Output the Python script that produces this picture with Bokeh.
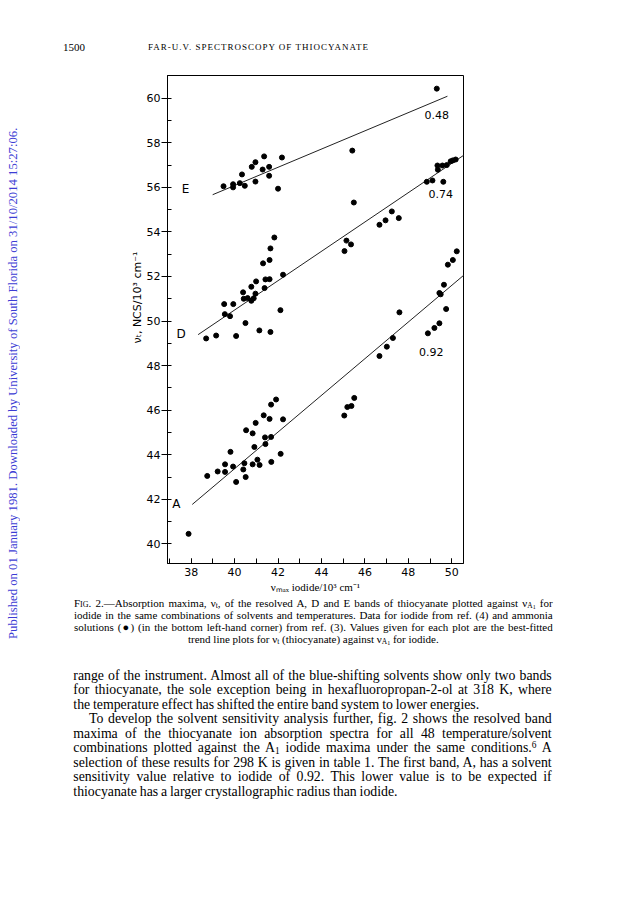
from bokeh.plotting import figure
from bokeh.models import Label, SingleIntervalTicker, Range1d, Title, Div
from bokeh.layouts import row, column
from bokeh.embed import file_html
from bokeh.resources import INLINE

# ---------------- data ----------------
band_E_x = [39.49, 39.93, 39.93, 40.24, 40.34, 40.47, 40.79, 40.96, 40.96, 41.29, 41.36,
            41.59, 41.59, 42.00, 42.18, 45.42, 49.31]
band_E_y = [56.05, 56.14, 56.00, 56.19, 56.58, 56.07, 56.92, 57.13, 56.26, 56.80, 57.39,
            56.92, 56.52, 55.94, 57.34, 57.65, 60.43]

band_D_x = [38.69, 39.15, 39.52, 39.55, 39.79, 39.94, 40.07, 40.39, 40.42, 40.50, 40.60,
            40.77, 40.77, 40.88, 40.96, 40.99, 41.14, 41.31, 41.38, 41.42, 41.61, 41.61,
            41.65, 41.65, 41.83, 42.11, 42.23, 45.06, 45.15, 45.36, 45.49, 46.67, 46.95,
            47.24, 47.56, 48.85, 49.11, 49.36, 49.34, 49.57, 49.61, 49.77, 49.95, 50.05, 50.18]
band_D_y = [49.22, 49.35, 50.76, 50.31, 50.22, 50.76, 49.33, 51.29, 51.00, 49.91, 51.03,
            51.54, 50.91, 51.02, 51.23, 51.78, 49.58, 52.59, 51.48, 51.87, 51.88, 52.74,
            53.26, 49.51, 53.75, 50.49, 52.08, 53.14, 53.61, 53.44, 55.32, 54.32, 54.52,
            54.92, 54.62, 56.25, 56.31, 56.79, 56.98, 56.98, 56.25, 57.00, 57.17, 57.21, 57.25]

band_A_x = [38.74, 39.22, 39.56, 39.56, 39.81, 39.93, 40.07, 40.40, 40.45, 40.51, 40.53,
            40.83, 40.83, 40.91, 40.97, 41.05, 41.15, 41.34, 41.40, 41.42, 41.61, 41.68,
            41.68, 41.69, 41.91, 42.12, 42.23, 45.05, 45.19, 45.38, 45.51, 46.67, 47.01,
            47.29, 47.59, 48.90, 49.20, 49.43, 49.43, 49.49, 49.64, 49.74, 49.82, 50.05, 50.23]
band_A_y = [43.05, 43.25, 43.57, 43.23, 44.13, 43.47, 42.78, 43.34, 43.62, 43.00, 45.10,
            44.96, 43.57, 44.35, 45.43, 43.78, 43.54, 45.77, 44.78, 44.48, 45.61, 46.25,
            44.80, 43.68, 46.48, 44.04, 45.59, 45.76, 46.14, 46.19, 46.55, 48.43, 48.85,
            49.24, 50.39, 49.45, 49.69, 49.90, 51.26, 51.20, 51.63, 50.54, 52.53, 52.74, 53.13]

ammonia_x = [37.88]
ammonia_y = [40.45]

trend_E_x = [38.99, 49.80]
trend_E_y = [55.67, 60.09]
trend_D_x = [38.32, 50.58]
trend_D_y = [49.39, 57.46]
trend_A_x = [38.05, 50.58]
trend_A_y = [41.77, 52.08]

band_names = ["E", "D", "A"]
band_name_x = [37.74, 37.54, 37.32]
band_name_y = [55.94, 49.43, 41.81]
slope_texts = ["0.48", "0.74", "0.92"]
slope_x = [49.31, 49.49, 49.05]
slope_y = [59.26, 55.68, 48.60]

header_page = "1500"
header_title = "FAR-U.V. SPECTROSCOPY OF THIOCYANATE"
watermark = ("Published on 01 January 1981. Downloaded by University of South Florida "
             "on 31/10/2014 15:27:06.")
SUB_T = '<span class="sb">t</span>'
SUB_A1 = '<span class="sb">A<span class="sb2">1</span></span>'
caption_lines = [
    '<span style="font-variant:small-caps">Fig</span>. 2.—Absorption maxima, ν' + SUB_T +
    ', of the resolved A, D and E bands of thiocyanate plotted against ν' + SUB_A1 + ' for',
    "iodide in the same combinations of solvents and temperatures. Data for iodide from ref. (4) and ammonia",
    "solutions (●) (in the bottom left-hand corner) from ref. (3). Values given for each plot are the best-fitted",
    "trend line plots for ν" + SUB_T + " (thiocyanate) against ν" + SUB_A1 + " for iodide.",
]
body_lines = [
    "range of the instrument. Almost all of the blue-shifting solvents show only two bands",
    "for thiocyanate, the sole exception being in hexafluoropropan-2-ol at 318 K, where",
    "the temperature effect has shifted the entire band system to lower energies.",
    "To develop the solvent sensitivity analysis further, fig. 2 shows the resolved band",
    "maxima of the thiocyanate ion absorption spectra for all 48 temperature/solvent",
    'combinations plotted against the A<span class="sb">1</span> iodide maxima under the same conditions.<span class="sp">6</span> A',
    "selection of these results for 298 K is given in table 1. The first band, A, has a solvent",
    "sensitivity value relative to iodide of 0.92. This lower value is to be expected if",
    "thiocyanate has a larger crystallographic radius than iodide.",
]

# ---------------- layout (page pixels) ----------------
WM_W = 26                      # width of the watermark strip
HDR_H = 60                     # header strip height
FL, FR, FT, FB = 167, 463, 75, 563
FIG_W = 624 - WM_W
FIG_H = 539
BL = FL - WM_W
FW = FR - FL
BT = FT - HDR_H
FH = FB - FT
TXT_TOP = HDR_H + FIG_H        # page y where text block starts

p = figure(width=FIG_W, height=FIG_H, output_backend="svg", toolbar_location=None,
           x_range=Range1d(36.91, 50.54), y_range=Range1d(39.12, 61.02),
           min_border_left=BL, min_border_right=FIG_W - BL - FW,
           min_border_top=BT, min_border_bottom=FIG_H - BT - FH, margin=0)
p.background_fill_color = "white"
p.border_fill_color = "white"
p.outline_line_color = "black"
p.outline_line_width = 1
p.xgrid.visible = False
p.ygrid.visible = False

p.xaxis.ticker = SingleIntervalTicker(interval=2, num_minor_ticks=2)
p.yaxis.ticker = SingleIntervalTicker(interval=2, num_minor_ticks=2)
for ax in (p.xaxis, p.yaxis):
    ax.axis_line_color = "black"
    ax.major_tick_line_color = "black"
    ax.minor_tick_line_color = "black"
    ax.major_label_text_font = "DejaVu Sans"
    ax.major_label_text_font_size = "11px"
    ax.major_label_text_color = "black"
p.xaxis.major_tick_in = 5
p.xaxis.major_tick_out = 0
p.xaxis.minor_tick_in = 5
p.xaxis.minor_tick_out = 0
p.xaxis.major_label_standoff = 4
p.yaxis.major_tick_in = 3
p.yaxis.major_tick_out = 6
p.yaxis.minor_tick_in = 4
p.yaxis.minor_tick_out = 0
p.yaxis.major_label_standoff = 1

p.xaxis.axis_label = "νₘₐₓ iodide/10³ cm⁻¹"
p.xaxis.axis_label_text_font = "Liberation Serif"
p.xaxis.axis_label_text_font_size = "11px"
p.xaxis.axis_label_text_font_style = "normal"
p.xaxis.axis_label_text_color = "black"
p.xaxis.axis_label_standoff = 2

# y-axis title: starts (bottom end) about 220 px above the frame bottom
p.add_layout(Title(text="νₜ, NCS/10³ cm⁻¹", align="left", offset=220, standoff=0,
                   text_font="DejaVu Sans", text_font_size="11px",
                   text_font_style="normal", text_color="black"), "left")

# trend lines
for tx, ty in ((trend_E_x, trend_E_y), (trend_D_x, trend_D_y), (trend_A_x, trend_A_y)):
    p.line(tx, ty, line_color="#222222", line_width=1)

# points
for xs, ys in ((band_E_x, band_E_y), (band_D_x, band_D_y), (band_A_x, band_A_y),
               (ammonia_x, ammonia_y)):
    p.scatter(xs, ys, marker="circle", size=5, fill_color="black", line_color="black")

for n, x, y in zip(band_names, band_name_x, band_name_y):
    p.add_layout(Label(x=x, y=y, text=n, text_font="DejaVu Sans", text_font_size="12px",
                       text_align="center", text_baseline="middle", text_color="black"))
for s, x, y in zip(slope_texts, slope_x, slope_y):
    p.add_layout(Label(x=x, y=y, text=s, text_font="DejaVu Sans", text_font_size="11px",
                       text_align="center", text_baseline="middle", text_color="black"))

# ---------------- surrounding page text ----------------
SERIF = "font-family:'Liberation Serif','Times New Roman',serif;"
SUBCSS = ("<style>.sb,.sp,.sb2{font-size:0.68em;line-height:0;position:relative;}"
          ".sb{top:0.2em;} .sb2{top:0.15em;font-size:0.8em;} .sp{top:-0.4em;}</style>")

wm_div = Div(width=WM_W, height=900, margin=0, text=(
    '<div style="position:relative;width:%dpx;height:900px;">'
    '<div style="position:absolute;left:5px;top:127px;width:16px;height:512px;'
    'writing-mode:vertical-rl;transform:rotate(180deg);white-space:nowrap;text-align:center;'
    '%s font-size:12.7px;line-height:16px;color:#3c3cd4;">%s</div></div>'
    % (WM_W, SERIF, watermark)))

hdr_div = Div(width=FIG_W, height=HDR_H, margin=0, text=(
    '<div style="position:relative;width:%dpx;height:%dpx;%s color:black;">'
    '<span style="position:absolute;left:%dpx;top:40px;font-size:11px;line-height:14px;">%s</span>'
    '<span style="position:absolute;left:%dpx;top:41px;font-size:9px;letter-spacing:1px;'
    'line-height:12px;white-space:nowrap;">%s</span></div>'
    % (FIG_W, HDR_H, SERIF, 63 - WM_W, header_page, 148 - WM_W, header_title)))


def line_div(left, center_y, width, size, lh, html, mode, ws):
    top = center_y - TXT_TOP - lh / 2.0
    if mode == "justify":
        al = "text-align:justify;text-align-last:justify;"
    elif mode == "center":
        al = "text-align:center;"
    else:
        al = "text-align:left;"
    return ('<div style="position:absolute;left:%.1fpx;top:%.1fpx;width:%.1fpx;height:%dpx;'
            'font-size:%.1fpx;line-height:%dpx;white-space:nowrap;word-spacing:%.1fpx;%s">%s</div>'
            % (left - WM_W, top, width, lh, size, lh, ws, al, html))


parts = []
for i, t in enumerate(caption_lines):
    mode = "center" if i == len(caption_lines) - 1 else "justify"
    parts.append(line_div(74, 602.7 + 12.0 * i, 478.7, 11.0, 12, t, mode, 0.0))
for i, t in enumerate(body_lines):
    left, width = 73.3, 478.4
    if i == 3:
        left, width = 89.0, 462.7
    mode = "left" if i in (2, 8) else "justify"
    parts.append(line_div(left, 675 + 14.5 * i, width, 13.8, 15, t, mode, -0.6))

TXT_H = 300
txt_div = Div(width=FIG_W, height=TXT_H, margin=0, text=(
    SUBCSS + '<div style="position:relative;width:%dpx;height:%dpx;%s color:black;">%s</div>'
    % (FIG_W, TXT_H, SERIF, "".join(parts))))

layout = row(wm_div, column(hdr_div, p, txt_div, margin=0), margin=0)

open("out.html", "w").write(file_html(layout, INLINE))
